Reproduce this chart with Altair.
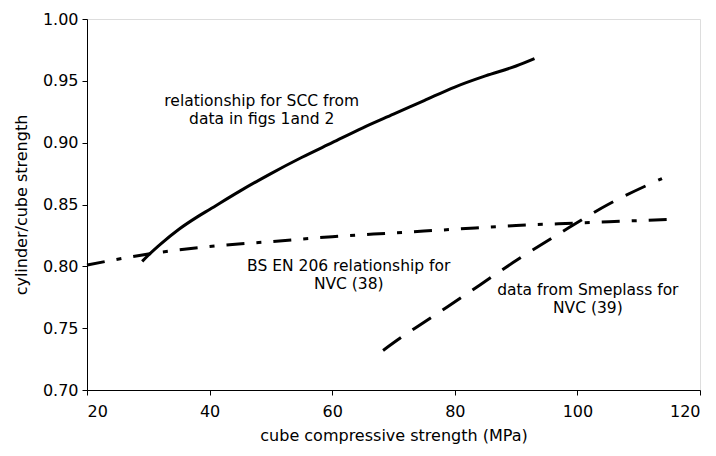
import altair as alt
import pandas as pd

# SCC relationship (solid)
scc_x = [29, 30, 32, 35, 38, 40, 45, 50, 55, 60, 65, 70, 75, 80, 85, 90, 93]
scc_y = [0.804, 0.809, 0.818, 0.830, 0.840, 0.846, 0.861, 0.875, 0.888, 0.900, 0.912, 0.923, 0.934, 0.945, 0.954, 0.962, 0.968]

# BS EN 206 relationship (dash-dot)
bs_x = [20, 30, 40, 50, 60, 70, 80, 90, 100, 110, 115]
bs_y = [0.801, 0.810, 0.816, 0.820, 0.824, 0.827, 0.830, 0.833, 0.835, 0.837, 0.838]

# Smeplass data (dashed)
sm_x = [68.3, 71.4, 73.5, 78.7, 84.1, 89.5, 97.2, 105, 113.8]
sm_y = [0.732, 0.743, 0.750, 0.767, 0.785, 0.803, 0.827, 0.850, 0.871]

ann_x = [48.5, 48.5, 62.7, 62.7, 101.7, 101.7]
ann_y = [0.9337, 0.9191, 0.8003, 0.7857, 0.7809, 0.7663]
ann_text = ["relationship for SCC from", "data in figs 1and 2",
            "BS EN 206 relationship for", "NVC (38)",
            "data from Smeplass for", "NVC (39)"]

FONT = "DejaVu Sans"

xs = alt.Scale(domain=[20, 120], nice=False)
ys = alt.Scale(domain=[0.70, 1.00], nice=False, zero=False)

xax = alt.Axis(values=[20, 40, 60, 80, 100, 120], grid=False, tickSize=5,
               labelPadding=8, titlePadding=8, labelFontSize=16, titleFontSize=16,
               labelFont=FONT, titleFont=FONT, titleFontWeight="normal",
               domainColor="black", tickColor="black", labelColor="black", titleColor="black")
yax = alt.Axis(values=[0.70, 0.75, 0.80, 0.85, 0.90, 0.95, 1.00], format=".2f", grid=False,
               tickSize=5, labelPadding=4, titlePadding=13, labelFontSize=16, titleFontSize=16,
               labelFont=FONT, titleFont=FONT, titleFontWeight="normal",
               domainColor="black", tickColor="black", labelColor="black", titleColor="black")

df_scc = pd.DataFrame({"x": scc_x, "y": scc_y})
df_bs = pd.DataFrame({"x": bs_x, "y": bs_y})
df_sm = pd.DataFrame({"x": sm_x, "y": sm_y})
df_ann = pd.DataFrame({"x": ann_x, "y": ann_y, "t": ann_text})

scc = alt.Chart(df_scc).mark_line(color="black", strokeWidth=3, interpolate="monotone").encode(
    x=alt.X("x:Q", scale=xs, axis=xax, title="cube compressive strength (MPa)"),
    y=alt.Y("y:Q", scale=ys, axis=yax, title="cylinder/cube strength"),
)
bs = alt.Chart(df_bs).mark_line(color="black", strokeWidth=3, strokeDash=[18, 12, 5, 12],
                                interpolate="monotone").encode(x="x:Q", y="y:Q")
sm = alt.Chart(df_sm).mark_line(color="black", strokeWidth=3, strokeDash=[22, 14],
                                interpolate="monotone").encode(x="x:Q", y="y:Q")
ann = alt.Chart(df_ann).mark_text(font=FONT, fontSize=15.5, color="black", align="center",
                                  baseline="middle").encode(x="x:Q", y="y:Q", text="t:N")

chart = alt.layer(scc, bs, sm, ann).properties(
    width=613, height=371, autosize="none",
    padding={"left": 79, "top": 11, "right": 8, "bottom": 58},
).configure_view(stroke="black", strokeWidth=1).configure(background="white")

chart.save("out.html", embed_options={"renderer": "svg", "actions": False})
